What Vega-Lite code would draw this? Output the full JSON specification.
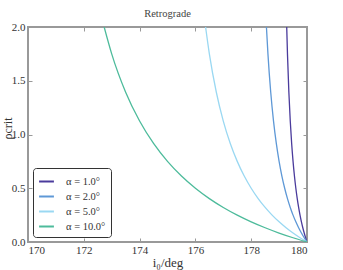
{
  "$schema": "https://vega.github.io/schema/vega-lite/v6.json",
  "width": 279,
  "height": 215,
  "autosize": {"type": "none"},
  "padding": {"left": 28, "top": 27, "right": 36, "bottom": 28},
  "background": "white",
  "title": {"text": "Retrograde", "font": "Liberation Serif", "fontSize": 10.5, "fontWeight": "normal", "color": "#444", "offset": 2},
  "config": {
    "view": {"stroke": "#999", "strokeWidth": 2},
    "axis": {"labelFont": "Liberation Serif", "titleFont": "Liberation Serif", "labelColor": "#333", "titleColor": "#333", "labelFontSize": 11, "domain": false, "grid": false, "tickColor": "#999", "tickSize": -4, "tickWidth": 1},
    "legend": {"labelFont": "Liberation Serif", "labelFontSize": 11, "labelColor": "#333"}
  },
  "data": {"values": [
    {"a": "α = 1.0°", "i": 180, "r": 0}, {"a": "α = 1.0°", "i": 179.95, "r": 0.0395}, {"a": "α = 1.0°", "i": 179.9, "r": 0.0833}, {"a": "α = 1.0°", "i": 179.85, "r": 0.1324}, {"a": "α = 1.0°", "i": 179.8, "r": 0.1875}, {"a": "α = 1.0°", "i": 179.75, "r": 0.25}, {"a": "α = 1.0°", "i": 179.7, "r": 0.3214}, {"a": "α = 1.0°", "i": 179.65, "r": 0.4038}, {"a": "α = 1.0°", "i": 179.6, "r": 0.5}, {"a": "α = 1.0°", "i": 179.55, "r": 0.6136}, {"a": "α = 1.0°", "i": 179.5, "r": 0.75}, {"a": "α = 1.0°", "i": 179.45, "r": 0.9167}, {"a": "α = 1.0°", "i": 179.4, "r": 1.125}, {"a": "α = 1.0°", "i": 179.35, "r": 1.393}, {"a": "α = 1.0°", "i": 179.3, "r": 1.75}, {"a": "α = 1.0°", "i": 179.273, "r": 2.0},
    {"a": "α = 2.0°", "i": 180, "r": 0}, {"a": "α = 2.0°", "i": 179.9, "r": 0.0395}, {"a": "α = 2.0°", "i": 179.8, "r": 0.0833}, {"a": "α = 2.0°", "i": 179.7, "r": 0.1324}, {"a": "α = 2.0°", "i": 179.6, "r": 0.1875}, {"a": "α = 2.0°", "i": 179.5, "r": 0.25}, {"a": "α = 2.0°", "i": 179.4, "r": 0.3214}, {"a": "α = 2.0°", "i": 179.3, "r": 0.4038}, {"a": "α = 2.0°", "i": 179.2, "r": 0.5}, {"a": "α = 2.0°", "i": 179.1, "r": 0.6136}, {"a": "α = 2.0°", "i": 179.0, "r": 0.75}, {"a": "α = 2.0°", "i": 178.9, "r": 0.9167}, {"a": "α = 2.0°", "i": 178.8, "r": 1.125}, {"a": "α = 2.0°", "i": 178.7, "r": 1.393}, {"a": "α = 2.0°", "i": 178.6, "r": 1.75}, {"a": "α = 2.0°", "i": 178.546, "r": 2.0},
    {"a": "α = 5.0°", "i": 180, "r": 0}, {"a": "α = 5.0°", "i": 179.75, "r": 0.0395}, {"a": "α = 5.0°", "i": 179.5, "r": 0.0833}, {"a": "α = 5.0°", "i": 179.25, "r": 0.1324}, {"a": "α = 5.0°", "i": 179.0, "r": 0.1875}, {"a": "α = 5.0°", "i": 178.75, "r": 0.25}, {"a": "α = 5.0°", "i": 178.5, "r": 0.3214}, {"a": "α = 5.0°", "i": 178.25, "r": 0.4038}, {"a": "α = 5.0°", "i": 178.0, "r": 0.5}, {"a": "α = 5.0°", "i": 177.75, "r": 0.6136}, {"a": "α = 5.0°", "i": 177.5, "r": 0.75}, {"a": "α = 5.0°", "i": 177.25, "r": 0.9167}, {"a": "α = 5.0°", "i": 177.0, "r": 1.125}, {"a": "α = 5.0°", "i": 176.75, "r": 1.393}, {"a": "α = 5.0°", "i": 176.5, "r": 1.75}, {"a": "α = 5.0°", "i": 176.365, "r": 2.0},
    {"a": "α = 10.0°", "i": 180, "r": 0}, {"a": "α = 10.0°", "i": 179.5, "r": 0.0395}, {"a": "α = 10.0°", "i": 179.0, "r": 0.0833}, {"a": "α = 10.0°", "i": 178.5, "r": 0.1324}, {"a": "α = 10.0°", "i": 178.0, "r": 0.1875}, {"a": "α = 10.0°", "i": 177.5, "r": 0.25}, {"a": "α = 10.0°", "i": 177.0, "r": 0.3214}, {"a": "α = 10.0°", "i": 176.5, "r": 0.4038}, {"a": "α = 10.0°", "i": 176.0, "r": 0.5}, {"a": "α = 10.0°", "i": 175.5, "r": 0.6136}, {"a": "α = 10.0°", "i": 175.0, "r": 0.75}, {"a": "α = 10.0°", "i": 174.5, "r": 0.9167}, {"a": "α = 10.0°", "i": 174.0, "r": 1.125}, {"a": "α = 10.0°", "i": 173.5, "r": 1.393}, {"a": "α = 10.0°", "i": 173.0, "r": 1.75}, {"a": "α = 10.0°", "i": 172.73, "r": 2.0}
  ]},
  "layer": [
    {
      "mark": {"type": "line", "strokeWidth": 1.3, "interpolate": "monotone", "clip": true},
      "encoding": {
        "x": {"field": "i", "type": "quantitative", "scale": {"domain": [170, 180], "nice": false, "zero": false}, "axis": {"orient": "bottom", "values": [170, 172, 174, 176, 178, 180], "title": "i₀/deg", "titleFontSize": 13, "titleFontWeight": "normal", "titleY": 20, "titleBaseline": "middle", "labelPadding": 6}},
        "y": {"field": "r", "type": "quantitative", "scale": {"domain": [0, 2], "nice": false}, "axis": {"orient": "left", "values": [0, 0.5, 1, 1.5, 2], "format": ".1f", "title": "ρcrit", "titleFontSize": 12, "titleFontWeight": "normal", "titleX": -21, "titleY": 101, "titleAngle": 270, "titleAlign": "center", "titleBaseline": "middle", "labelPadding": 7}},
        "color": {"field": "a", "type": "nominal", "sort": ["α = 1.0°", "α = 2.0°", "α = 5.0°", "α = 10.0°"],
          "scale": {"domain": ["α = 1.0°", "α = 2.0°", "α = 5.0°", "α = 10.0°"], "range": ["#4a3b9c", "#5e98d6", "#9ad8f2", "#4dbb9b"]},
          "legend": {"title": null, "orient": "bottom-left", "offset": 5, "symbolType": "stroke", "symbolSize": 220, "symbolStrokeWidth": 2, "labelFont": "Liberation Serif", "labelFontSize": 10.5, "labelColor": "#333", "strokeColor": "#333", "fillColor": "white", "cornerRadius": 3, "padding": 5, "rowPadding": 1, "labelOffset": 11}}
      }
    },
    {
      "mark": {"type": "line", "opacity": 0},
      "encoding": {
        "x": {"field": "i", "type": "quantitative", "axis": {"orient": "top", "values": [170, 172, 174, 176, 178, 180], "labels": false, "title": null}},
        "y": {"field": "r", "type": "quantitative", "axis": {"orient": "right", "values": [0, 0.5, 1, 1.5, 2], "labels": false, "title": null}},
        "detail": {"field": "a"}
      }
    }
  ],
  "resolve": {"axis": {"x": "independent", "y": "independent"}}
}
